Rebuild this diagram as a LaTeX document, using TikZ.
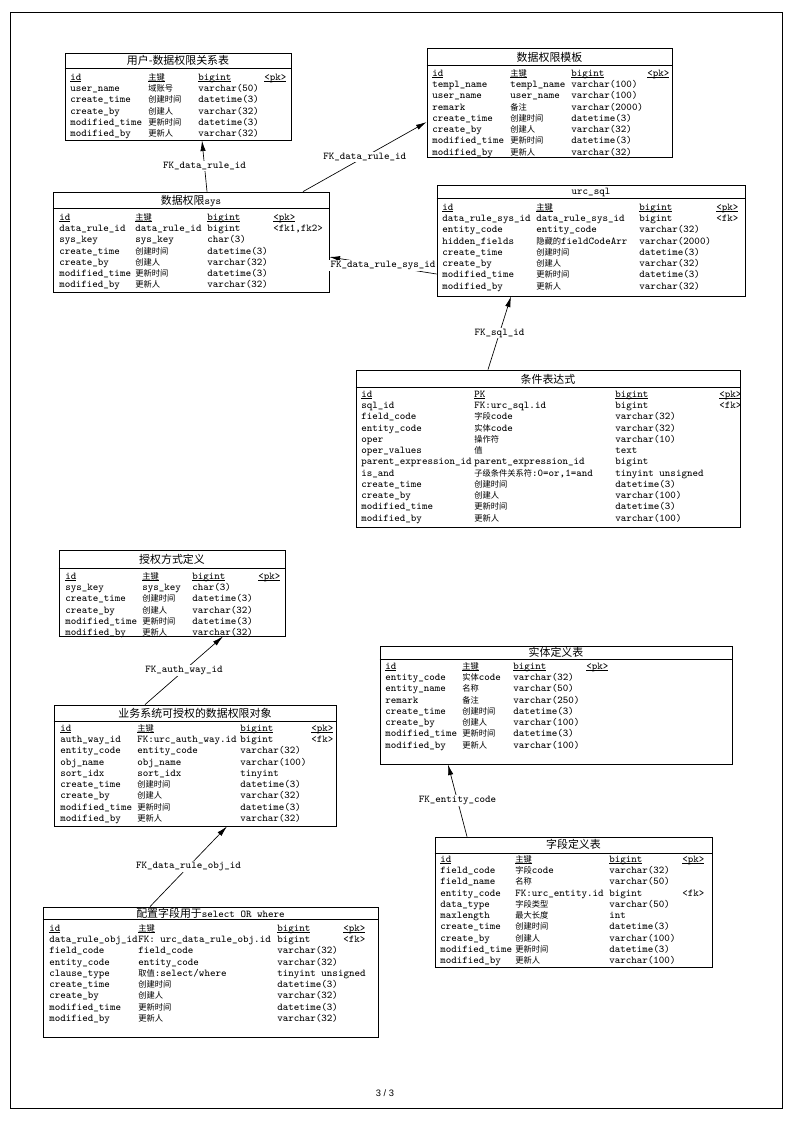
\documentclass[tikz,border=0pt]{standalone}
\usepackage{fontspec}
\newfontfamily\cjkfont{Noto Sans CJK SC}
\newfontfamily\footfont{Liberation Sans}
\usetikzlibrary{arrows.meta,fit}

\newcommand\tablefont{\ttfamily\fontsize{7.8}{8.45}\selectfont\lineskiplimit=-20pt\relax}
\newcommand\zh[1]{{\cjkfont\fontsize{6.2}{8.45}\selectfont #1}}
\newcommand\zht[1]{{\cjkfont\fontsize{8.2}{8.45}\selectfont #1}}
\newsavebox\hdbox
\newcommand\hd[1]{\sbox\hdbox{#1}\rule{0pt}{7pt}\rlap{\rule[-1.3pt]{\wd\hdbox}{0.45pt}}\usebox\hdbox}

\begin{document}
\begin{tikzpicture}[x=0.75pt, y=-0.75pt,
    tbl/.style={draw, line width=0.6pt, inner sep=0pt},
    ttl/.style={font=\tablefont, inner sep=0pt},
    col/.style={anchor=north west, yshift=7pt, inner sep=0pt, align=left, font=\tablefont},
    fk/.style={line width=0.5pt, -{Latex[length=8pt,width=4pt]}},
    lbl/.style={font=\tablefont, fill=white, inner sep=0.8pt}]
  \useasboundingbox (0,0) rectangle (793,1122);

  % page frame and footer
  \draw[line width=0.5pt] (10,12) rectangle (782,1108);
  \node[font=\footfont\fontsize{7}{8}\selectfont] (page) at (385,1093) {3 / 3};

  % 用户-数据权限关系表
  \node[tbl, fit={(65,53) (291,140)}] (usr) {};
  \node[ttl] (usr-title) at (usr.north |- 0,60) {\zht{用户-数据权限关系表}};
  \draw[line width=0.6pt] (usr.west |- 0,68) -- (usr.east |- 0,68);
  \node[col] (usr-c1) at (70,80) {\hd{id}\\user\_name\\create\_time\\create\_by\\modified\_time\\modified\_by};
  \node[col] (usr-c2) at (148,80) {\hd{\zh{主键}}\\\zh{域账号}\\\zh{创建时间}\\\zh{创建人}\\\zh{更新时间}\\\zh{更新人}};
  \node[col] (usr-c3) at (198,80) {\hd{bigint}\\varchar(50)\\datetime(3)\\varchar(32)\\datetime(3)\\varchar(32)};
  \node[col] (usr-c4) at (264,80) {\hd{<pk>}};

  % 数据权限模板
  \node[tbl, fit={(427,48) (672,157)}] (tpl) {};
  \node[ttl] (tpl-title) at (tpl.north |- 0,57) {\zht{数据权限模板}};
  \draw[line width=0.6pt] (tpl.west |- 0,65) -- (tpl.east |- 0,65);
  \node[col] (tpl-c1) at (432,76) {\hd{id}\\templ\_name\\user\_name\\remark\\create\_time\\create\_by\\modified\_time\\modified\_by};
  \node[col] (tpl-c2) at (510,76) {\hd{\zh{主键}}\\templ\_name\\user\_name\\\zh{备注}\\\zh{创建时间}\\\zh{创建人}\\\zh{更新时间}\\\zh{更新人}};
  \node[col] (tpl-c3) at (571,76) {\hd{bigint}\\varchar(100)\\varchar(100)\\varchar(2000)\\datetime(3)\\varchar(32)\\datetime(3)\\varchar(32)};
  \node[col] (tpl-c4) at (647,76) {\hd{<pk>}};

  % 数据权限sys
  \node[tbl, fit={(53,192) (329,292)}] (sys) {};
  \node[ttl] (sys-title) at (sys.north |- 0,201) {\zht{数据权限}sys};
  \draw[line width=0.6pt] (sys.west |- 0,208) -- (sys.east |- 0,208);
  \node[col] (sys-c1) at (59,220) {\hd{id}\\data\_rule\_id\\sys\_key\\create\_time\\create\_by\\modified\_time\\modified\_by};
  \node[col] (sys-c2) at (135,220) {\hd{\zh{主键}}\\data\_rule\_id\\sys\_key\\\zh{创建时间}\\\zh{创建人}\\\zh{更新时间}\\\zh{更新人}};
  \node[col] (sys-c3) at (207,220) {\hd{bigint}\\bigint\\char(3)\\datetime(3)\\varchar(32)\\datetime(3)\\varchar(32)};
  \node[col] (sys-c4) at (273,220) {\hd{<pk>}\\<fk1,fk2>};

  % urc_sql
  \node[tbl, fit={(437,185) (745,296)}] (sql) {};
  \node[ttl] (sql-title) at (sql.north |- 0,192) {urc\_sql};
  \draw[line width=0.6pt] (sql.west |- 0,198) -- (sql.east |- 0,198);
  \node[col] (sql-c1) at (442,210) {\hd{id}\\data\_rule\_sys\_id\\entity\_code\\hidden\_fields\\create\_time\\create\_by\\modified\_time\\modified\_by};
  \node[col] (sql-c2) at (536,210) {\hd{\zh{主键}}\\data\_rule\_sys\_id\\entity\_code\\\zh{隐藏的}fieldCodeArr\\\zh{创建时间}\\\zh{创建人}\\\zh{更新时间}\\\zh{更新人}};
  \node[col] (sql-c3) at (639,210) {\hd{bigint}\\bigint\\varchar(32)\\varchar(2000)\\datetime(3)\\varchar(32)\\datetime(3)\\varchar(32)};
  \node[col] (sql-c4) at (716,210) {\hd{<pk>}\\<fk>};

  % 条件表达式
  \node[tbl, fit={(356,370) (740,527)}] (expr) {};
  \node[ttl] (expr-title) at (expr.north |- 0,379) {\zht{条件表达式}};
  \draw[line width=0.6pt] (expr.west |- 0,387) -- (expr.east |- 0,387);
  \node[col] (expr-c1) at (361,397) {\hd{id}\\sql\_id\\field\_code\\entity\_code\\oper\\oper\_values\\parent\_expression\_id\\is\_and\\create\_time\\create\_by\\modified\_time\\modified\_by};
  \node[col] (expr-c2) at (474,397) {\hd{PK}\\FK:urc\_sql.id\\\zh{字段}code\\\zh{实体}code\\\zh{操作符}\\\zh{值}\\parent\_expression\_id\\\zh{子级条件关系符}:0=or,1=and\\\zh{创建时间}\\\zh{创建人}\\\zh{更新时间}\\\zh{更新人}};
  \node[col] (expr-c3) at (615,397) {\hd{bigint}\\bigint\\varchar(32)\\varchar(32)\\varchar(10)\\text\\bigint\\tinyint unsigned\\datetime(3)\\varchar(100)\\datetime(3)\\varchar(100)};
  \node[col] (expr-c4) at (719,397) {\hd{<pk>}\\<fk>};

  % 授权方式定义
  \node[tbl, fit={(59,550) (285,636)}] (auth) {};
  \node[ttl] (auth-title) at (auth.north |- 0,559) {\zht{授权方式定义}};
  \draw[line width=0.6pt] (auth.west |- 0,568) -- (auth.east |- 0,568);
  \node[col] (auth-c1) at (65,579) {\hd{id}\\sys\_key\\create\_time\\create\_by\\modified\_time\\modified\_by};
  \node[col] (auth-c2) at (142,579) {\hd{\zh{主键}}\\sys\_key\\\zh{创建时间}\\\zh{创建人}\\\zh{更新时间}\\\zh{更新人}};
  \node[col] (auth-c3) at (192,579) {\hd{bigint}\\char(3)\\datetime(3)\\varchar(32)\\datetime(3)\\varchar(32)};
  \node[col] (auth-c4) at (258,579) {\hd{<pk>}};

  % 业务系统可授权的数据权限对象
  \node[tbl, fit={(54,705) (336,826)}] (obj) {};
  \node[ttl] (obj-title) at (obj.north |- 0,713) {\zht{业务系统可授权的数据权限对象}};
  \draw[line width=0.6pt] (obj.west |- 0,721) -- (obj.east |- 0,721);
  \node[col] (obj-c1) at (60,731) {\hd{id}\\auth\_way\_id\\entity\_code\\obj\_name\\sort\_idx\\create\_time\\create\_by\\modified\_time\\modified\_by};
  \node[col] (obj-c2) at (137,731) {\hd{\zh{主键}}\\FK:urc\_auth\_way.id\\entity\_code\\obj\_name\\sort\_idx\\\zh{创建时间}\\\zh{创建人}\\\zh{更新时间}\\\zh{更新人}};
  \node[col] (obj-c3) at (240,731) {\hd{bigint}\\bigint\\varchar(32)\\varchar(100)\\tinyint\\datetime(3)\\varchar(32)\\datetime(3)\\varchar(32)};
  \node[col] (obj-c4) at (311,731) {\hd{<pk>}\\<fk>};

  % 实体定义表
  \node[tbl, fit={(380,646) (732,764)}] (ent) {};
  \node[ttl] (ent-title) at (ent.north |- 0,652) {\zht{实体定义表}};
  \draw[line width=0.6pt] (ent.west |- 0,659) -- (ent.east |- 0,659);
  \node[col] (ent-c1) at (385,669) {\hd{id}\\entity\_code\\entity\_name\\remark\\create\_time\\create\_by\\modified\_time\\modified\_by};
  \node[col] (ent-c2) at (462,669) {\hd{\zh{主键}}\\\zh{实体}code\\\zh{名称}\\\zh{备注}\\\zh{创建时间}\\\zh{创建人}\\\zh{更新时间}\\\zh{更新人}};
  \node[col] (ent-c3) at (513,669) {\hd{bigint}\\varchar(32)\\varchar(50)\\varchar(250)\\datetime(3)\\varchar(100)\\datetime(3)\\varchar(100)};
  \node[col] (ent-c4) at (586,669) {\hd{<pk>}};

  % 字段定义表
  \node[tbl, fit={(435,837) (712,967)}] (fld) {};
  \node[ttl] (fld-title) at (fld.north |- 0,844) {\zht{字段定义表}};
  \draw[line width=0.6pt] (fld.west |- 0,853) -- (fld.east |- 0,853);
  \node[col] (fld-c1) at (440,862) {\hd{id}\\field\_code\\field\_name\\entity\_code\\data\_type\\maxlength\\create\_time\\create\_by\\modified\_time\\modified\_by};
  \node[col] (fld-c2) at (515,862) {\hd{\zh{主键}}\\\zh{字段}code\\\zh{名称}\\FK:urc\_entity.id\\\zh{字段类型}\\\zh{最大长度}\\\zh{创建时间}\\\zh{创建人}\\\zh{更新时间}\\\zh{更新人}};
  \node[col] (fld-c3) at (609,862) {\hd{bigint}\\varchar(32)\\varchar(50)\\bigint\\varchar(50)\\int\\datetime(3)\\varchar(100)\\datetime(3)\\varchar(100)};
  \node[col] (fld-c4) at (682,862) {\hd{<pk>}\\\\\\<fk>};

  % 配置字段用于select OR where
  \node[tbl, fit={(43,907) (378,1037)}] (cfg) {};
  \node[ttl] (cfg-title) at (cfg.north |- 0,913) {\zht{配置字段用于}select OR where};
  \draw[line width=0.6pt] (cfg.west |- 0,919) -- (cfg.east |- 0,919);
  \node[col] (cfg-c1) at (49,931) {\hd{id}\\data\_rule\_obj\_id\\field\_code\\entity\_code\\clause\_type\\create\_time\\create\_by\\modified\_time\\modified\_by};
  \node[col] (cfg-c2) at (138,931) {\hd{\zh{主键}}\\FK: urc\_data\_rule\_obj.id\\field\_code\\entity\_code\\\zh{取值}:select/where\\\zh{创建时间}\\\zh{创建人}\\\zh{更新时间}\\\zh{更新人}};
  \node[col] (cfg-c3) at (277,931) {\hd{bigint}\\bigint\\varchar(32)\\varchar(32)\\tinyint unsigned\\datetime(3)\\varchar(32)\\datetime(3)\\varchar(32)};
  \node[col] (cfg-c4) at (343,931) {\hd{<pk>}\\<fk>};

  % reference ends
  \coordinate (sys-fk1) at (sys.north -| 207,0);
  \coordinate (usr-ref) at (usr.south -| 202,0);
  \coordinate (sys-fk2) at (sys.north -| 303,0);
  \coordinate (tpl-ref) at (tpl.west |- 0,122);
  \coordinate (sql-fk) at (sql.west |- 0,274);
  \coordinate (sys-ref) at (sys.east |- 0,257);
  \coordinate (expr-fk) at (expr.north -| 488,0);
  \coordinate (sql-ref) at (sql.south -| 511,0);
  \coordinate (obj-fk) at (obj.north -| 145,0);
  \coordinate (auth-ref) at (auth.south -| 223,0);
  \coordinate (cfg-fk) at (cfg.north -| 150,0);
  \coordinate (obj-ref) at (obj.south -| 227,0);
  \coordinate (fld-fk) at (fld.north -| 467,0);
  \coordinate (ent-ref) at (ent.south -| 448,0);

  % foreign keys
  \draw[fk] (sys-fk1) -- node[lbl] (fk-usr) {FK\_data\_rule\_id} (usr-ref);
  \draw[fk] (sys-fk2) -- node[lbl] (fk-tpl) {FK\_data\_rule\_id} (tpl-ref);
  \draw[fk] (sql-fk) -- node[lbl] (fk-sys) {FK\_data\_rule\_sys\_id} (sys-ref);
  \draw[fk] (expr-fk) -- node[lbl] (fk-sql) {FK\_sql\_id} (sql-ref);
  \draw[fk] (obj-fk) -- node[lbl] (fk-auth) {FK\_auth\_way\_id} (auth-ref);
  \draw[fk] (cfg-fk) -- node[lbl] (fk-obj) {FK\_data\_rule\_obj\_id} (obj-ref);
  \draw[fk] (fld-fk) -- node[lbl] (fk-ent) {FK\_entity\_code} (ent-ref);
\end{tikzpicture}
\end{document}
